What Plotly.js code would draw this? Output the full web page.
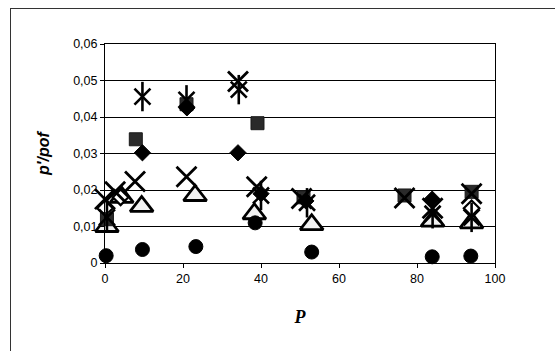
<!DOCTYPE html>
<html>
<head>
<meta charset="utf-8">
<script src="https://cdn.plot.ly/plotly-3.0.1.min.js"></script>
<style>
  html, body { margin: 0; padding: 0; background: #fff; }
  #wrap { position: relative; width: 555px; height: 351px; overflow: hidden; }
  #chart { position: absolute; left: 0; top: 0; width: 555px; height: 351px; }
  #frame { position: absolute; left: 10px; top: 8px; width: 700px; height: 500px;
           border-left: 1px solid #333; border-top: 1px solid #333; pointer-events: none; }
</style>
</head>
<body>
<div id="wrap">
  <div id="chart"></div>
  <div id="frame"></div>
</div>
<script>
// Series (P on x, p'/pof on y)
const diamondP = [9.6, 21.0, 34.1, 40.0, 51.5, 83.9];
const diamondV = [0.0302, 0.0425, 0.0302, 0.0190, 0.0170, 0.0175];

const squareP = [0.5, 7.9, 20.9, 39.1, 50.9, 76.8, 94.0];
const squareV = [0.0120, 0.0339, 0.0435, 0.0383, 0.0180, 0.0185, 0.0195];

const triangleP = [0.5, 4.3, 9.4, 23.1, 38.3, 53.0, 84.0, 94.0];
const triangleV = [0.0100, 0.0180, 0.0155, 0.0185, 0.0135, 0.0105, 0.0115, 0.0110];

const crossP = [0.0, 2.6, 7.7, 20.9, 34.1, 38.9, 50.4, 76.8, 84.0, 94.0];
const crossV = [0.0175, 0.0195, 0.0223, 0.0236, 0.0497, 0.0209, 0.0177, 0.0178, 0.0150, 0.0190];

const starP = [0.5, 9.6, 20.9, 34.3, 40.0, 51.8, 84.0, 94.0];
const starV = [0.0125, 0.0456, 0.0447, 0.0475, 0.0185, 0.0165, 0.0135, 0.0125];

const circleP = [0.3, 9.6, 23.3, 38.5, 53.0, 83.9, 93.8];
const circleV = [0.0020, 0.0037, 0.0045, 0.0110, 0.0030, 0.0017, 0.0019];

const openDiamondP = [0.0, 4.0, 94.0];
const openDiamondV = [0.0150, 0.0180, 0.0150];

const yTickVals = [0, 0.01, 0.02, 0.03, 0.04, 0.05, 0.06];
const yTickText = ['0', '0,01', '0,02', '0,03', '0,04', '0,05', '0,06'];
const xTickVals = [0, 20, 40, 60, 80, 100];

function sc(x, y, marker) {
  return { type: 'scatter', mode: 'markers', x: x, y: y, marker: marker,
           cliponaxis: false, showlegend: false, hoverinfo: 'skip' };
}

const traces = [
  sc(triangleP, triangleV, { symbol: 'triangle-up', size: 20, color: '#f2f2f2',
       line: { color: '#000', width: 2.8 } }),
  sc(openDiamondP, openDiamondV, { symbol: 'diamond', size: 12, color: '#ffffff',
       line: { color: '#000', width: 2.2 } }),
  sc(squareP, squareV, { symbol: 'square', size: 13, color: '#2a2a2a',
       line: { color: '#1a1a1a', width: 1 } }),
  sc(diamondP, diamondV, { symbol: 'diamond', size: 12.5, color: '#000',
       line: { color: '#000', width: 1 } }),
  sc(circleP, circleV, { symbol: 'circle', size: 14, color: '#000',
       line: { color: '#000', width: 1 } }),
  sc(crossP, crossV, { symbol: 'x-thin-open', size: 20, color: '#000',
       line: { color: '#000', width: 2.8 } }),
  // star marker = diagonal cross + vertical bar, both from the same series arrays
  sc(starP, starV, { symbol: 'x-thin-open', size: 16, color: '#000',
       line: { color: '#000', width: 2.6 } }),
  sc(starP, starV, { symbol: 'line-ns-open', size: 21, color: '#000',
       line: { color: '#000', width: 2.6 } })
];

const layout = {
  width: 555, height: 351,
  margin: { l: 105, r: 60, t: 44, b: 88 },
  paper_bgcolor: '#fff', plot_bgcolor: '#fff',
  font: { family: 'Liberation Sans, Arial, sans-serif', size: 12, color: '#000' },
  xaxis: {
    range: [0, 100], tickvals: xTickVals, ticks: 'outside', ticklen: 4, tickcolor: '#000',
    showgrid: false, zeroline: false, showline: true, linecolor: '#000', linewidth: 1,
    mirror: true, tickfont: { size: 12.5, family: 'Liberation Sans, Arial, sans-serif' },
    title: { text: '<b><i>P</i></b>', standoff: 25,
             font: { family: 'Liberation Serif, Times New Roman, serif', size: 18 } }
  },
  yaxis: {
    range: [0, 0.06], tickvals: yTickVals, ticktext: yTickText, ticks: 'outside',
    ticklen: 4, tickcolor: '#000',
    showgrid: true, gridcolor: '#000', gridwidth: 1, zeroline: false,
    showline: true, linecolor: '#000', linewidth: 1, mirror: true,
    tickfont: { size: 12.5, family: 'Liberation Sans, Arial, sans-serif' },
    title: { text: "<b><i>p'/pof</i></b>", standoff: 19,
             font: { family: 'Liberation Sans, Arial, sans-serif', size: 16 } }
  }
};

Plotly.newPlot('chart', traces, layout, { staticPlot: true, displayModeBar: false });
</script>
</body>
</html>
